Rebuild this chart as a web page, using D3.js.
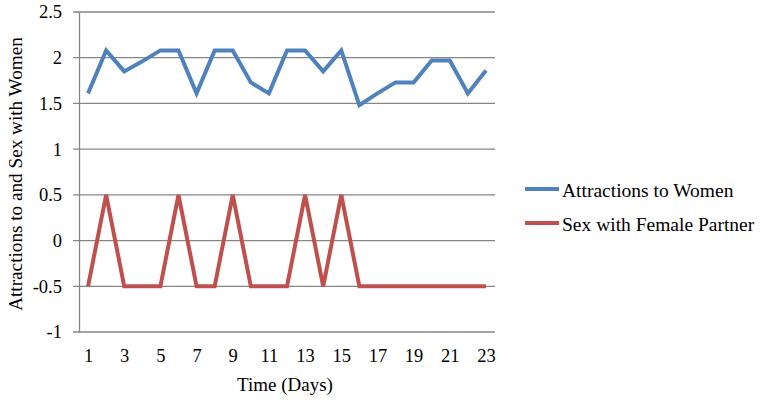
<!DOCTYPE html>
<html>
<head>
<meta charset="utf-8">
<script src="https://cdn.jsdelivr.net/npm/d3@7"></script>
<style>
  body { margin: 0; background: #fff; }
</style>
</head>
<body>
<div id="chart"></div>
<script>
// data
var days = d3.range(1, 24);
var xTickLabels = [1, 3, 5, 7, 9, 11, 13, 15, 17, 19, 21, 23];
var yTicks = [-1, -0.5, 0, 0.5, 1, 1.5, 2, 2.5];
var attractions = [1.61, 2.08, 1.85, 1.96, 2.08, 2.08, 1.61, 2.08, 2.08, 1.73, 1.61, 2.08,
                   2.08, 1.85, 2.08, 1.48, 1.61, 1.73, 1.73, 1.97, 1.97, 1.61, 1.86];
var sexFemale = [-0.5, 0.5, -0.5, -0.5, -0.5, 0.5, -0.5, -0.5, 0.5, -0.5, -0.5, -0.5,
                 0.5, -0.5, 0.5, -0.5, -0.5, -0.5, -0.5, -0.5, -0.5, -0.5, -0.5];
var seriesNames = ["Attractions to Women", "Sex with Female Partner"];
var seriesColors = ["#4F81BD", "#C0504D"];

var FONT = "'Liberation Serif'";

var margin = {top: 12, right: 267, bottom: 73, left: 79},
    W = 762, H = 405,
    width = W - margin.left - margin.right,
    height = H - margin.top - margin.bottom;

var svg = d3.select("#chart").append("svg")
    .attr("width", W)
    .attr("height", H)
    .append("g")
    .attr("transform", "translate(" + margin.left + "," + margin.top + ")");

var xScale = d3.scalePoint()
    .domain(days)
    .range([0, width])
    .padding(0.5);

var yScale = d3.scaleLinear()
    .domain([-1, 2.5])
    .range([height, 0]);

// gridlines (with little ticks poking out left)
svg.selectAll(".grid")
    .data(yTicks)
    .enter().append("line")
    .attr("class", "grid")
    .attr("x1", -6)
    .attr("x2", width)
    .attr("y1", function(d) { return yScale(d); })
    .attr("y2", function(d) { return yScale(d); })
    .attr("stroke", "#868686")
    .attr("stroke-width", 1.3);

// y axis
var yAxis = svg.append("g")
    .call(d3.axisLeft(yScale).tickValues(yTicks).tickSize(0).tickPadding(17)
        .tickFormat(function(d) { return String(d); }));
yAxis.select(".domain").attr("stroke", "#868686").attr("stroke-width", 1.3);
yAxis.selectAll("text").style("font-size", "18.5px").style("font-family", FONT).attr("fill", "#000");

// x axis
var xAxis = svg.append("g")
    .attr("transform", "translate(0," + height + ")")
    .call(d3.axisBottom(xScale).tickValues(xTickLabels).tickSize(0).tickPadding(17));
xAxis.select(".domain").remove();
xAxis.selectAll("text").style("font-size", "18.5px").style("font-family", FONT).attr("fill", "#000");

// axis titles
svg.append("text")
    .attr("x", width / 2 - 2)
    .attr("y", height + 59)
    .attr("text-anchor", "middle")
    .style("font-size", "19px")
    .style("font-family", FONT)
    .text("Time (Days)");

svg.append("text")
    .attr("transform", "translate(" + (-57) + "," + (height / 2 + 2) + ") rotate(-90)")
    .attr("text-anchor", "middle")
    .style("font-size", "19.2px")
    .style("font-family", FONT)
    .text("Attractions to and Sex with Women");

// lines
var line = d3.line()
    .x(function(d, i) { return xScale(days[i]); })
    .y(function(d) { return yScale(d); });

[attractions, sexFemale].forEach(function(series, k) {
    svg.append("path")
        .datum(series)
        .attr("d", line)
        .attr("fill", "none")
        .attr("stroke", seriesColors[k])
        .attr("stroke-width", 4)
        .attr("stroke-linejoin", "miter");
});

// legend
var legend = svg.append("g")
    .attr("transform", "translate(" + (525 - margin.left) + "," + (189 - margin.top) + ")");

seriesNames.forEach(function(name, k) {
    var g = legend.append("g").attr("transform", "translate(0," + (k * 34) + ")");
    g.append("line")
        .attr("x1", 0).attr("x2", 34)
        .attr("y1", 0).attr("y2", 0)
        .attr("stroke", seriesColors[k])
        .attr("stroke-width", 4);
    g.append("text")
        .attr("x", 37)
        .attr("y", 2)
        .attr("dy", "0.32em")
        .style("font-size", "19.5px")
        .style("font-family", FONT)
        .text(name);
});
</script>
</body>
</html>
